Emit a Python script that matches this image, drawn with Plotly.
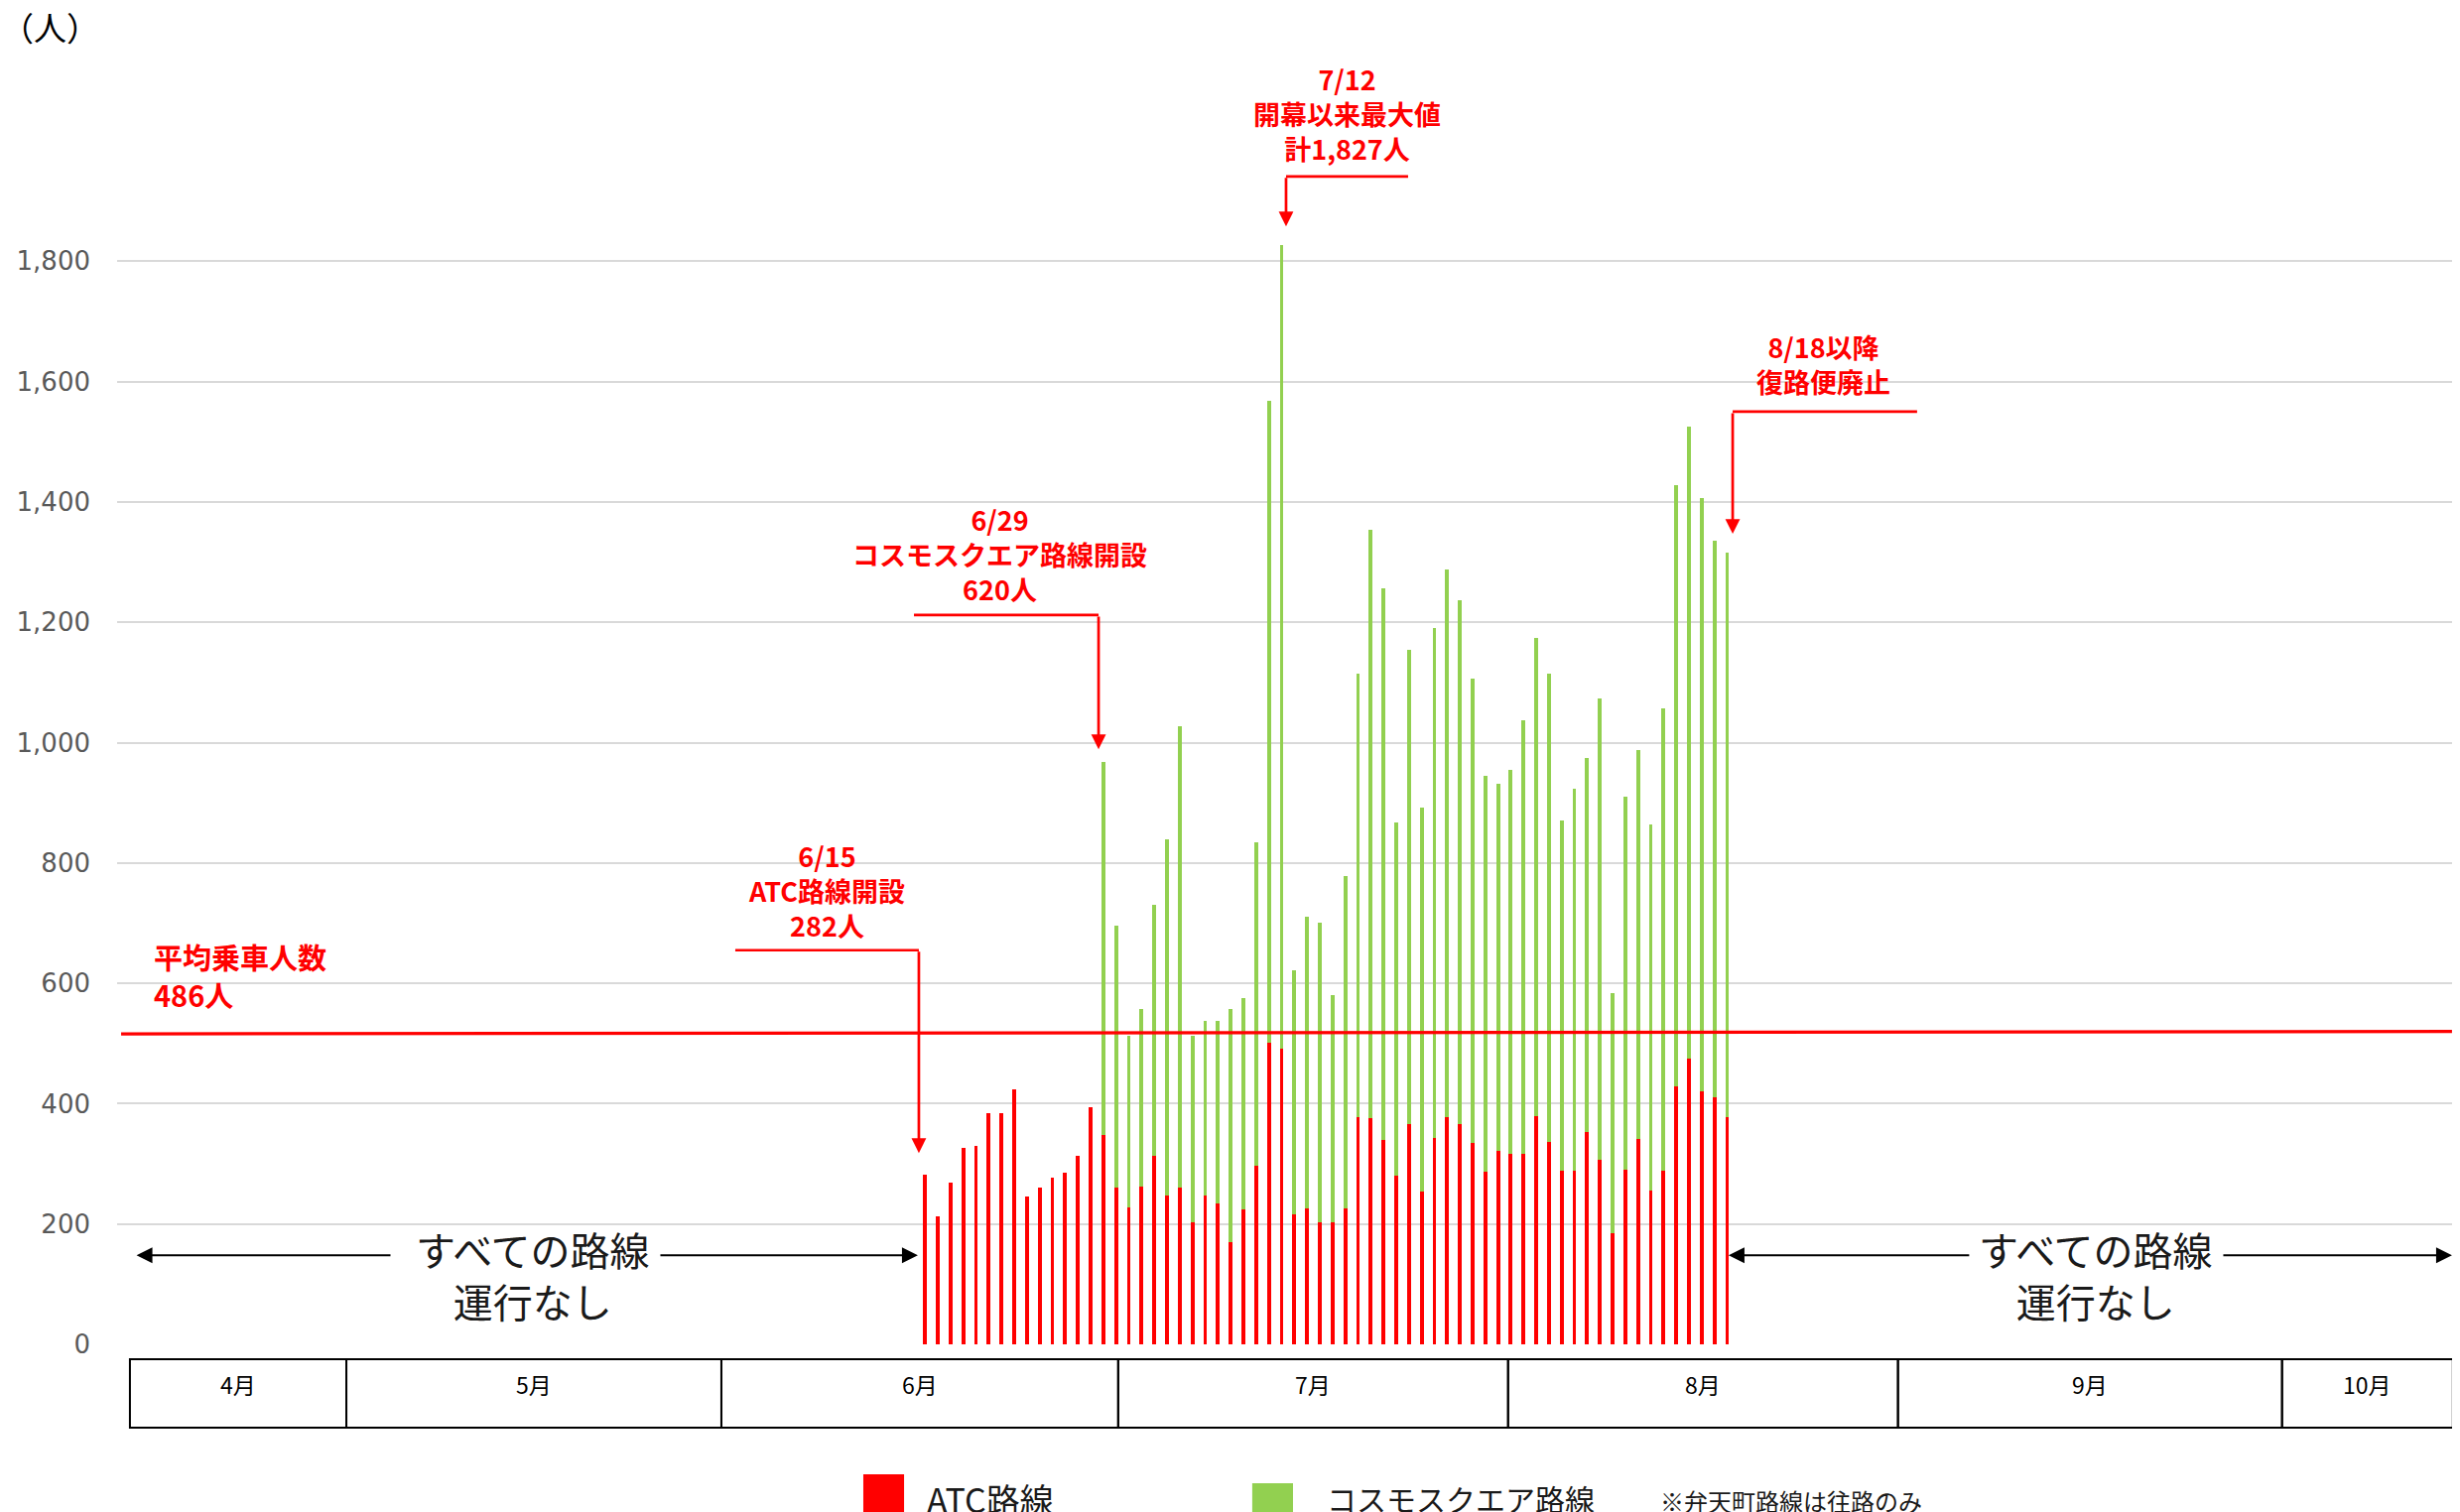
import pandas as pd
import plotly.graph_objects as go

# ---------------- data ----------------
DATES = pd.date_range("2025-06-15", "2025-08-17", freq="D")

ATC = [282, 213, 268, 327, 330, 385, 385, 424, 246, 261, 277, 286, 314, 394,
       348, 261,
       227, 262, 314, 247, 260, 202, 248, 234, 170, 224, 296, 501, 491, 216, 226,
       203, 203, 226, 378, 376, 339, 280, 366, 254, 343, 377, 366, 334, 287, 322, 316,
       317, 380, 336, 288, 289, 353, 307, 184, 291, 342, 255, 289, 428, 475, 420, 411, 377]

COSMO = [None] * 14 + [
    620, 435,
    285, 296, 416, 593, 767, 311, 290, 304, 388, 351, 538, 1067, 1336, 406, 485,
    497, 378, 553, 736, 978, 918, 587, 788, 638, 847, 911, 870, 772, 658, 609, 639,
    720, 794, 779, 582, 635, 621, 766, 400, 619, 645, 609, 768, 1000, 1051, 986, 925, 938]

Y_TICKS = [0, 200, 400, 600, 800, 1000, 1200, 1400, 1600, 1800]
AVG_LABEL = "平均乗車人数<br>486人"
AVG_LINE = [516, 520]

MONTH_LABELS = ["4月", "5月", "6月", "7月", "8月", "9月", "10月"]
MONTH_BOUNDS = ["2025-04-13 13:00", "2025-04-30 13:00", "2025-05-30 00:00",
                "2025-06-30 04:00", "2025-07-30 19:00", "2025-08-30 10:00",
                "2025-09-29 14:00", "2025-10-13 00:00"]

SERIES_NAMES = ["ATC路線", "コスモスクエア路線"]
NOTE = "※弁天町路線は往路のみ"

RED = "#FF0000"
GREEN = "#92D050"
FONT = "Noto Sans CJK JP"
DAY_MS = 86400000

fig = go.Figure()
fig.add_trace(go.Bar(x=DATES, y=ATC, name=SERIES_NAMES[0], marker=dict(color=RED, line=dict(width=0)),
                     width=0.3 * DAY_MS))
fig.add_trace(go.Bar(x=DATES, y=COSMO, name=SERIES_NAMES[1], marker=dict(color=GREEN, line=dict(width=0)),
                     width=0.3 * DAY_MS))

shapes = []
annotations = []

# average line
shapes.append(dict(type="line", xref="x", yref="y", x0="2025-04-12 20:24", x1="2025-10-12 22:20",
                   y0=AVG_LINE[0], y1=AVG_LINE[1], line=dict(color=RED, width=3.2), layer="above"))
annotations.append(dict(x="2025-04-15 06:15", y=613, xref="x", yref="y", text=AVG_LABEL,
                        showarrow=False, xanchor="left", yanchor="middle", align="left",
                        font=dict(family=FONT, size=29, color=RED, weight="bold")))

# red callouts: (text, text_x, text_y, hline_x0, arrow_x, elbow_y, tip_y)
callouts = [
    ("6/15<br>ATC路線開設<br>282人", "2025-06-07 06:15", 755,
     "2025-05-31 02:10", "2025-06-14 12:15", 655, 318),
    ("6/29<br>コスモスクエア路線開設<br>620人", "2025-06-20 21:40", 1314,
     "2025-06-14 03:00", "2025-06-28 15:00", 1212, 989),
    ("7/12<br>開幕以来最大値<br>計1,827人", "2025-07-18 04:20", 2045,
     "2025-07-22 22:30", "2025-07-13 08:25", 1941, 1858),
    ("8/18以降<br>復路便廃止", "2025-08-24 12:30", 1629,
     "2025-08-31 22:00", "2025-08-17 10:20", 1550, 1347),
]
for text, tx, ty, hx0, ax_, ey, tipy in callouts:
    annotations.append(dict(x=tx, y=ty, xref="x", yref="y", text=text, showarrow=False,
                            xanchor="center", yanchor="middle", align="center",
                            font=dict(family=FONT, size=27, color=RED, weight="bold")))
    shapes.append(dict(type="line", xref="x", yref="y", x0=hx0, x1=ax_, y0=ey, y1=ey,
                       line=dict(color=RED, width=2.7)))
    annotations.append(dict(x=ax_, y=tipy, ax=ax_, ay=ey, xref="x", yref="y", axref="x", ayref="y",
                            text="", showarrow=True, arrowhead=2, arrowsize=1.1, arrowwidth=2.7,
                            arrowcolor=RED, standoff=0))

# black "no service" arrows
for tip, start, text_x in [(("2025-04-14 01:25", "2025-06-14 10:20"), ("2025-05-04 03:00", "2025-05-25 02:10"), "2025-05-15 04:30"),
                           (("2025-08-17 02:40", "2025-10-12 22:20"), ("2025-09-05 03:00", "2025-09-24 20:25"), "2025-09-14 22:50")]:
    for t, s in zip(tip, start):
        annotations.append(dict(x=t, y=148, ax=s, ay=148, xref="x", yref="y", axref="x", ayref="y",
                                text="", showarrow=True, arrowhead=2, arrowsize=1.6, arrowwidth=2,
                                arrowcolor="#000000", standoff=0))
    annotations.append(dict(x=text_x, y=115, xref="x", yref="y", text="すべての路線<br>運行なし",
                            showarrow=False, xanchor="center", yanchor="middle", align="center",
                            font=dict(family=FONT, size=40, color="#1a1a1a")))

# month boxes
for i, lab in enumerate(MONTH_LABELS):
    x0 = pd.Timestamp(MONTH_BOUNDS[i])
    x1 = pd.Timestamp(MONTH_BOUNDS[i + 1])
    shapes.append(dict(type="rect", xref="x", yref="paper", x0=x0, x1=x1, y0=-0.0624, y1=-0.0111,
                       line=dict(color="#000000", width=2), fillcolor="rgba(0,0,0,0)"))
    annotations.append(dict(x=x0 + (x1 - x0) / 2, y=-0.0297, xref="x", yref="paper", text=lab,
                            showarrow=False, xanchor="center", yanchor="middle",
                            font=dict(family=FONT, size=23, color="#000000")))

# legend (manual)
for (px0, px1, py0, color), (tx, name, size) in zip(
        [(0.3185, 0.3359, -0.0973, RED), (0.4845, 0.5019, -0.1039, GREEN)],
        [(0.3448, SERIES_NAMES[0], 34), (0.5155, SERIES_NAMES[1], 30)]):
    shapes.append(dict(type="rect", xref="paper", yref="paper", x0=px0, x1=px1, y0=py0, y1=-0.14,
                       line=dict(width=0), fillcolor=color))
    annotations.append(dict(x=tx, y=-0.1151, xref="paper", yref="paper", text=name, showarrow=False,
                            xanchor="left", yanchor="middle", font=dict(family=FONT, size=size, color="#1a1a1a")))
annotations.append(dict(x=0.6578, y=-0.1166, xref="paper", yref="paper", text=NOTE, showarrow=False,
                        xanchor="left", yanchor="middle", font=dict(family=FONT, size=24, color="#1a1a1a")))

# unit label
annotations.append(dict(x=-0.0505, y=0.9859, xref="paper", yref="paper", text="（人）", showarrow=False,
                        xanchor="left", yanchor="middle", font=dict(family=FONT, size=33, color="#000000")))

fig.update_layout(
    width=2471, height=1516,
    margin=dict(l=110, r=0, t=0, b=169),
    plot_bgcolor="white", paper_bgcolor="white",
    barmode="stack", showlegend=False,
    shapes=shapes, annotations=annotations,
    xaxis=dict(type="date", range=["2025-04-12 12:50", "2025-10-13 13:26"], showgrid=False,
               showticklabels=False, zeroline=False, showline=False, ticks=""),
    yaxis=dict(range=[0, 2221], tickvals=Y_TICKS, tickformat=",", showgrid=True, gridcolor="#d9d9d9",
               gridwidth=2, zeroline=False, showline=False, ticks="", ticklabelstandoff=26,
               tickfont=dict(family="DejaVu Sans", size=26, color="#595959")),
)

fig.write_html("out.html")
